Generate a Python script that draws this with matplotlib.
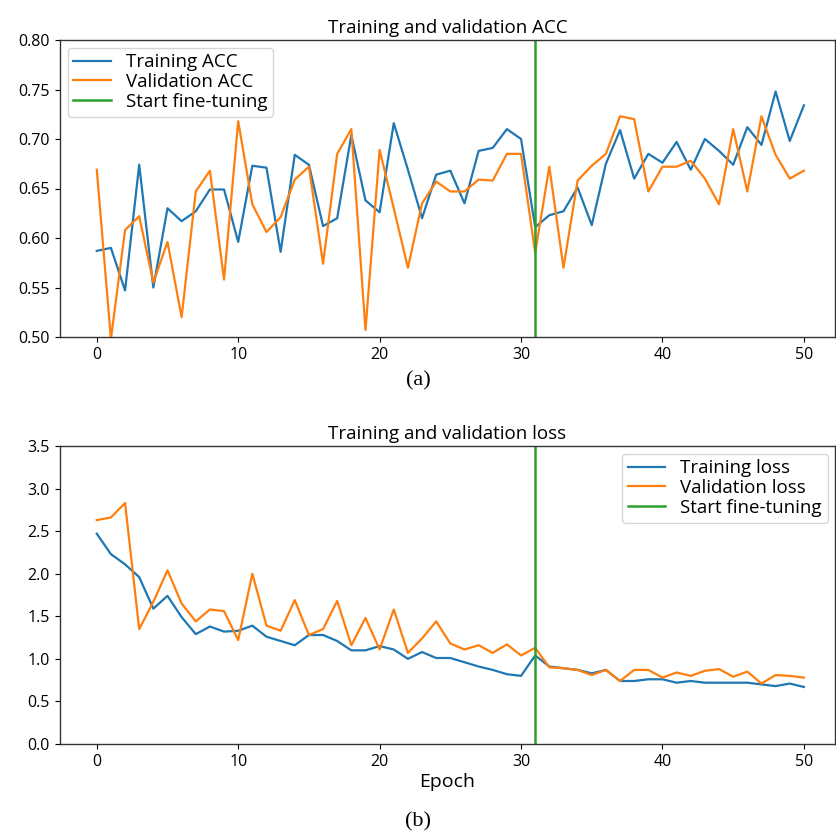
import matplotlib
matplotlib.use("Agg")
import matplotlib.pyplot as plt
import numpy as np

epochs = list(range(51))

train_acc = [0.587, 0.590, 0.547, 0.674, 0.550, 0.630, 0.617, 0.627, 0.649, 0.649,
             0.596, 0.673, 0.671, 0.586, 0.684, 0.674, 0.612, 0.620, 0.704, 0.638,
             0.626, 0.716, 0.669, 0.620, 0.664, 0.668, 0.635, 0.688, 0.691, 0.710,
             0.700, 0.611, 0.623, 0.627, 0.651, 0.613, 0.675, 0.709, 0.660, 0.685,
             0.676, 0.697, 0.669, 0.700, 0.688, 0.674, 0.712, 0.694, 0.748, 0.698,
             0.734]
val_acc = [0.669, 0.498, 0.608, 0.622, 0.555, 0.596, 0.520, 0.647, 0.668, 0.558,
           0.718, 0.634, 0.606, 0.621, 0.659, 0.672, 0.574, 0.685, 0.710, 0.507,
           0.689, 0.630, 0.570, 0.635, 0.657, 0.647, 0.647, 0.659, 0.658, 0.685,
           0.685, 0.585, 0.672, 0.570, 0.658, 0.673, 0.685, 0.723, 0.720, 0.647,
           0.672, 0.672, 0.678, 0.660, 0.634, 0.710, 0.647, 0.723, 0.684, 0.660,
           0.668]
train_loss = [2.47, 2.23, 2.11, 1.96, 1.59, 1.74, 1.49, 1.29, 1.38, 1.32,
              1.33, 1.39, 1.26, 1.21, 1.16, 1.28, 1.28, 1.21, 1.10, 1.10,
              1.15, 1.11, 1.00, 1.08, 1.01, 1.01, 0.96, 0.91, 0.87, 0.82,
              0.80, 1.04, 0.91, 0.89, 0.87, 0.83, 0.87, 0.74, 0.74, 0.76,
              0.76, 0.72, 0.74, 0.72, 0.72, 0.72, 0.72, 0.70, 0.68, 0.71,
              0.67]
val_loss = [2.63, 2.66, 2.83, 1.35, 1.67, 2.04, 1.65, 1.44, 1.58, 1.56,
            1.22, 2.00, 1.39, 1.33, 1.69, 1.28, 1.35, 1.68, 1.16, 1.48,
            1.11, 1.58, 1.07, 1.24, 1.44, 1.18, 1.11, 1.16, 1.07, 1.17,
            1.04, 1.13, 0.90, 0.89, 0.87, 0.81, 0.87, 0.74, 0.87, 0.87,
            0.78, 0.84, 0.80, 0.86, 0.88, 0.79, 0.85, 0.71, 0.81, 0.80,
            0.78]
fine_tune_epoch = 31

acc_yticks = [0.50, 0.55, 0.60, 0.65, 0.70, 0.75, 0.80]
loss_yticks = [0.0, 0.5, 1.0, 1.5, 2.0, 2.5, 3.0, 3.5]
xticks = [0, 10, 20, 30, 40, 50]

plt.rcParams['font.family'] = ['Open Sans', 'DejaVu Sans']

W = H = 836
fig = plt.figure(figsize=(W / 100, H / 100), dpi=100)

def box(l, t, r, b):
    return [l / W, 1 - b / H, (r - l) / W, (b - t) / H]

ax1 = fig.add_axes(box(60, 40, 835, 337))
ax2 = fig.add_axes(box(60, 446, 835, 744))

c_blue = '#1f77b4'
c_orange = '#ff7f0e'
c_green = '#2ca02c'

for ax in (ax1, ax2):
    for s in ax.spines.values():
        s.set_color('#333333')
        s.set_linewidth(1.0)
    ax.tick_params(labelsize=11.5, colors='black', length=3.5, pad=4)

leg_kw = dict(fontsize=13.5, handlelength=2.0, borderpad=0.3,
              labelspacing=0.1, handletextpad=0.8, borderaxespad=0.4,
              fancybox=True)

ax1.plot(epochs, train_acc, color=c_blue, lw=1.6, label='Training ACC')
ax1.plot(epochs, val_acc, color=c_orange, lw=1.6, label='Validation ACC')
ax1.axvline(fine_tune_epoch, color=c_green, lw=1.8, label='Start fine-tuning')
ax1.set_xlim(-2.6, 52.2)
ax1.set_ylim(0.50, 0.80)
ax1.set_yticks(acc_yticks)
ax1.set_yticklabels([f"{v:.2f}" for v in acc_yticks])
ax1.set_xticks(xticks)
ax1.set_title('Training and validation ACC', fontsize=13.5, pad=5)
ax1.legend(loc='upper left', **leg_kw)

ax2.plot(epochs, train_loss, color=c_blue, lw=1.6, label='Training loss')
ax2.plot(epochs, val_loss, color=c_orange, lw=1.6, label='Validation loss')
ax2.axvline(fine_tune_epoch, color=c_green, lw=1.8, label='Start fine-tuning')
ax2.set_xlim(-2.6, 52.2)
ax2.set_ylim(0.0, 3.5)
ax2.set_yticks(loss_yticks)
ax2.set_yticklabels([f"{v:.1f}" for v in loss_yticks])
ax2.set_xticks(xticks)
ax2.set_title('Training and validation loss', fontsize=13.5, pad=5)
ax2.set_xlabel('Epoch', fontsize=14, labelpad=2)
ax2.legend(loc='upper right', **leg_kw)

fig.text(0.5, 1 - 381 / H, '(a)', ha='center', va='center',
         fontsize=16, family=['Liberation Serif', 'DejaVu Serif'])
fig.text(0.5, 1 - 822 / H, '(b)', ha='center', va='center',
         fontsize=16, family=['Liberation Serif', 'DejaVu Serif'])

fig.savefig('out.png', dpi=100)
